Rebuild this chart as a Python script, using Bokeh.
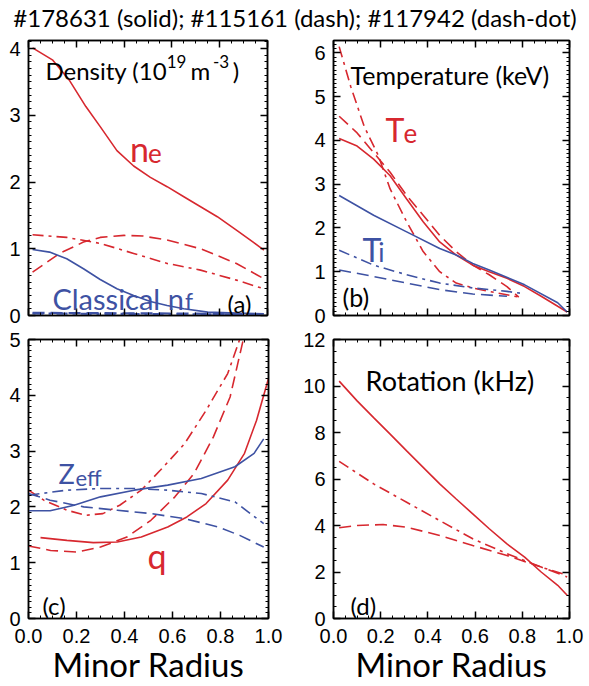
from bokeh.plotting import figure
from bokeh.models import Range1d, LinearAxis, SingleIntervalTicker, Label, PrintfTickFormatter
from bokeh.layouts import column, row
from bokeh.embed import file_html
from bokeh.resources import INLINE

RED = "#d7282f"
BLUE = "#3e52a3"

# ---------------- data ----------------
# (a) Density
ne_solid_x = [0.017, 0.10, 0.17, 0.24, 0.30, 0.37, 0.44, 0.51, 0.58, 0.65, 0.72, 0.79, 0.87, 0.94, 0.985]
ne_solid = [4.01, 3.83, 3.53, 3.13, 2.83, 2.47, 2.24, 2.07, 1.93, 1.78, 1.63, 1.48, 1.28, 1.10, 0.98]
ne_dash_x = [0.017, 0.13, 0.23, 0.30, 0.40, 0.48, 0.58, 0.72, 0.87, 0.985]
ne_dash = [0.65, 0.93, 1.10, 1.17, 1.20, 1.19, 1.13, 1.00, 0.78, 0.55]
ne_dd_x = [0.017, 0.16, 0.30, 0.44, 0.58, 0.72, 0.87, 0.985]
ne_dd = [1.21, 1.17, 1.08, 0.93, 0.78, 0.68, 0.53, 0.40]
nf_solid_x = [0.017, 0.088, 0.16, 0.23, 0.30, 0.37, 0.44, 0.51, 0.58, 0.65, 0.75, 0.87, 0.985]
nf_solid = [0.99, 0.95, 0.85, 0.70, 0.54, 0.40, 0.30, 0.21, 0.15, 0.10, 0.05, 0.035, 0.025]
nf_dash_x = [0.017, 0.30, 0.60, 0.985]
nf_dash = [0.04, 0.035, 0.03, 0.02]
nf_dd_x = [0.017, 0.30, 0.60, 0.985]
nf_dd = [0.03, 0.025, 0.02, 0.015]

# (b) Temperature
te_solid_x = [0.024, 0.10, 0.17, 0.24, 0.31, 0.38, 0.45, 0.52, 0.59, 0.66, 0.735, 0.81, 0.88, 0.95, 0.99]
te_solid = [4.04, 3.87, 3.57, 3.19, 2.66, 2.14, 1.68, 1.38, 1.15, 1.00, 0.85, 0.66, 0.44, 0.21, 0.08]
te_dash_x = [0.024, 0.10, 0.17, 0.24, 0.31, 0.38, 0.45, 0.52, 0.59, 0.66, 0.735, 0.785]
te_dash = [4.55, 4.17, 3.72, 3.27, 2.74, 2.29, 1.83, 1.46, 1.15, 0.93, 0.66, 0.42]
te_dd_x = [0.024, 0.073, 0.13, 0.19, 0.24, 0.31, 0.38, 0.45, 0.52, 0.59, 0.66, 0.785]
te_dd = [6.14, 5.23, 4.32, 3.65, 2.89, 2.14, 1.46, 1.00, 0.74, 0.63, 0.55, 0.42]
ti_solid_x = [0.024, 0.17, 0.31, 0.45, 0.52, 0.59, 0.66, 0.81, 0.95, 0.99]
ti_solid = [2.74, 2.29, 1.91, 1.53, 1.38, 1.19, 1.04, 0.70, 0.29, 0.08]
ti_dd_x = [0.024, 0.17, 0.31, 0.45, 0.59, 0.735, 0.79]
ti_dd = [1.49, 1.15, 0.93, 0.74, 0.63, 0.55, 0.51]
ti_dash_x = [0.024, 0.17, 0.31, 0.45, 0.59, 0.735]
ti_dash = [1.04, 0.89, 0.74, 0.59, 0.49, 0.44]

# (c) q and Zeff
q_solid_x = [0.05, 0.16, 0.27, 0.37, 0.47, 0.58, 0.66, 0.74, 0.83, 0.90, 0.95, 1.0]
q_solid = [1.45, 1.40, 1.36, 1.37, 1.46, 1.64, 1.82, 2.06, 2.48, 2.96, 3.55, 4.30]
q_dash_x = [0.0, 0.092, 0.20, 0.30, 0.41, 0.51, 0.61, 0.69, 0.77, 0.84, 0.895]
q_dash = [1.30, 1.22, 1.19, 1.28, 1.46, 1.76, 2.18, 2.60, 3.25, 3.97, 5.0]
q_dd_x = [0.0, 0.064, 0.16, 0.24, 0.31, 0.38, 0.47, 0.55, 0.65, 0.74, 0.83, 0.88]
q_dd = [2.30, 2.12, 1.94, 1.85, 1.88, 2.03, 2.30, 2.66, 3.13, 3.73, 4.39, 5.0]
zeff_solid_x = [0.0, 0.09, 0.19, 0.30, 0.44, 0.58, 0.72, 0.86, 0.94, 0.98]
zeff_solid = [1.93, 1.93, 2.03, 2.18, 2.30, 2.39, 2.51, 2.72, 2.96, 3.22]
zeff_dd_x = [0.0, 0.16, 0.30, 0.44, 0.58, 0.72, 0.86, 0.98]
zeff_dd = [2.21, 2.30, 2.33, 2.33, 2.30, 2.24, 2.09, 1.70]
zeff_dash_x = [0.0, 0.09, 0.23, 0.37, 0.51, 0.65, 0.79, 0.88, 0.98]
zeff_dash = [2.24, 2.12, 2.00, 1.94, 1.88, 1.79, 1.64, 1.49, 1.28]

# (d) Rotation
rot_solid_x = [0.024, 0.10, 0.17, 0.24, 0.31, 0.38, 0.45, 0.52, 0.59, 0.66, 0.735, 0.81, 0.88, 0.95, 0.99]
rot_solid = [10.21, 9.36, 8.64, 7.93, 7.21, 6.50, 5.79, 5.14, 4.50, 3.86, 3.21, 2.64, 2.00, 1.43, 1.00]
rot_dd_x = [0.024, 0.17, 0.31, 0.45, 0.59, 0.735, 0.88, 0.99]
rot_dd = [6.76, 5.79, 5.00, 4.21, 3.43, 2.79, 2.21, 1.86]
rot_dash_x = [0.024, 0.10, 0.21, 0.31, 0.45, 0.59, 0.735, 0.88, 0.99]
rot_dash = [3.90, 4.00, 4.04, 3.93, 3.57, 3.14, 2.71, 2.21, 1.79]

x_ticks_interval = 0.2
x_axis_title = "Minor Radius"
title_text = "#178631 (solid); #115161 (dash); #117942 (dash-dot)"

DASH = "12 6"
DASHDOT = "11 5 3 5"
LW = 1.6
TICK_FONT = "Liberation Sans"
LAB_FONT = "Lato"


def make_axis(interval, minor, show_labels):
    ax = LinearAxis(ticker=SingleIntervalTicker(interval=interval, num_minor_ticks=minor))
    ax.major_tick_in = 7
    ax.major_tick_out = 0
    ax.minor_tick_in = 3
    ax.minor_tick_out = 0
    ax.axis_line_color = "black"
    ax.axis_line_width = 1.5
    ax.major_tick_line_width = 1.5
    ax.minor_tick_line_width = 1
    if show_labels:
        ax.major_label_text_font = TICK_FONT
        ax.major_label_text_font_size = "20px"
        ax.major_label_text_color = "black"
        ax.major_label_standoff = 8
    else:
        ax.major_label_text_font_size = "1px"
        ax.major_label_text_color = None
        ax.major_label_standoff = 0
    return ax


def panel(width, height, left, right, top, bottom, ymax, yint, yminor, xlabels):
    p = figure(width=width, height=height, x_range=Range1d(0, 1), y_range=Range1d(0, ymax),
               x_axis_location=None, y_axis_location=None, output_backend="svg",
               toolbar_location=None, title_location=None,
               min_border_left=left, min_border_right=right,
               min_border_top=top, min_border_bottom=bottom)
    p.grid.visible = False
    p.outline_line_color = "black"
    p.outline_line_width = 1.5
    p.background_fill_color = "white"
    p.border_fill_color = "white"
    bx = make_axis(x_ticks_interval, 4, xlabels)
    if xlabels:
        bx.formatter = PrintfTickFormatter(format="%.1f")
        bx.major_label_standoff = 10
        bx.axis_label = x_axis_title
        bx.axis_label_text_font = LAB_FONT
        bx.axis_label_text_font_size = "33px"
        bx.axis_label_text_font_style = "normal"
        bx.axis_label_text_color = "black"
        bx.axis_label_standoff = -2
    p.add_layout(bx, "below")
    p.add_layout(make_axis(x_ticks_interval, 4, False), "above")
    p.add_layout(make_axis(yint, yminor, True), "left")
    p.add_layout(make_axis(yint, yminor, False), "right")
    return p


def lab(p, x, y, text, size, color="black", align="left"):
    p.add_layout(Label(x=x, y=y, text=text, text_font=LAB_FONT, text_font_size=size,
                       text_color=color, text_baseline="alphabetic", text_align=align))


# ---------------- title strip ----------------
pt = figure(width=589, height=34, x_range=Range1d(0, 1), y_range=Range1d(0, 1),
            x_axis_type=None, y_axis_type=None, output_backend="svg", toolbar_location=None,
            title=title_text, title_location="above",
            min_border_left=0, min_border_right=0, min_border_top=3, min_border_bottom=0,
            outline_line_color=None)
pt.grid.visible = False
pt.title.align = "center"
pt.title.text_font = LAB_FONT
pt.title.text_font_size = "24px"
pt.title.text_font_style = "normal"
pt.title.text_color = "black"
pt.title.standoff = 0
pt.title.offset = 0

# ---------------- (a) ----------------
pa = panel(300, 296, 28, 33, 6, 15, 4.12, 1, 10, False)
pa.line(ne_solid_x, ne_solid, color=RED, line_width=LW)
pa.line(ne_dash_x, ne_dash, color=RED, line_width=LW, line_dash=DASH)
pa.line(ne_dd_x, ne_dd, color=RED, line_width=LW, line_dash=DASHDOT)
pa.line(nf_solid_x, nf_solid, color=BLUE, line_width=LW)
pa.line(nf_dash_x, nf_dash, color=BLUE, line_width=2.2, line_dash=DASH)
pa.line(nf_dd_x, nf_dd, color=BLUE, line_width=2.2, line_dash=DASHDOT)
lab(pa, 0.071, 3.67, "Density (10", "24px")
lab(pa, 0.578, 3.80, "19", "17px")
lab(pa, 0.678, 3.67, "m", "24px")
lab(pa, 0.772, 3.80, "-3", "17px")
lab(pa, 0.855, 3.67, ")", "24px")
lab(pa, 0.425, 2.50, "n", "34px", RED)
lab(pa, 0.50, 2.44, "e", "26px", RED)
lab(pa, 0.10, 0.255, "Classical n", "29px", BLUE)
lab(pa, 0.655, 0.21, "f", "23px", BLUE)
lab(pa, 0.833, 0.18, "(a)", "24px")

# ---------------- (b) ----------------
pb = panel(289, 296, 33, 20, 3, 15, 6.28, 1, 10, False)
pb.line(te_solid_x, te_solid, color=RED, line_width=LW)
pb.line(te_dash_x, te_dash, color=RED, line_width=LW, line_dash=DASH)
pb.line(te_dd_x, te_dd, color=RED, line_width=LW, line_dash=DASHDOT)
pb.line(ti_solid_x, ti_solid, color=BLUE, line_width=LW)
pb.line(ti_dash_x, ti_dash, color=BLUE, line_width=LW, line_dash=DASH)
pb.line(ti_dd_x, ti_dd, color=BLUE, line_width=LW, line_dash=DASHDOT)
lab(pb, 0.072, 5.49, "Temperature (keV)", "25px")
lab(pb, 0.22, 4.24, "T", "32px", RED)
lab(pb, 0.297, 4.17, "e", "26px", RED)
lab(pb, 0.123, 1.50, "T", "32px", BLUE)
lab(pb, 0.19, 1.44, "i", "26px", BLUE)
lab(pb, 0.038, 0.42, "(b)", "25px")

# ---------------- (c) ----------------
pc = panel(300, 356, 28, 32, 9, 68, 5, 1, 10, True)
pc.line(q_solid_x, q_solid, color=RED, line_width=LW)
pc.line(q_dash_x, q_dash, color=RED, line_width=LW, line_dash=DASH)
pc.line(q_dd_x, q_dd, color=RED, line_width=LW, line_dash=DASHDOT)
pc.line(zeff_solid_x, zeff_solid, color=BLUE, line_width=LW)
pc.line(zeff_dash_x, zeff_dash, color=BLUE, line_width=LW, line_dash=DASH)
pc.line(zeff_dd_x, zeff_dd, color=BLUE, line_width=LW, line_dash=DASHDOT)
lab(pc, 0.125, 2.60, "Z", "27px", BLUE)
lab(pc, 0.196, 2.53, "eff", "22px", BLUE)
lab(pc, 0.496, 1.13, "q", "34px", RED)
lab(pc, 0.058, 0.24, "(c)", "24px")

# ---------------- (d) ----------------
pd_ = panel(289, 356, 33, 20, 9, 68, 12, 2, 4, True)
pd_.line(rot_solid_x, rot_solid, color=RED, line_width=LW)
pd_.line(rot_dash_x, rot_dash, color=RED, line_width=LW, line_dash=DASH)
pd_.line(rot_dd_x, rot_dd, color=RED, line_width=LW, line_dash=DASHDOT)
lab(pd_, 0.136, 10.25, "Rotation (kHz)", "27px")
lab(pd_, 0.072, 0.55, "(d)", "24px")

layout = column(pt, row(pa, pb), row(pc, pd_))
open("out.html", "w").write(file_html(layout, INLINE))
